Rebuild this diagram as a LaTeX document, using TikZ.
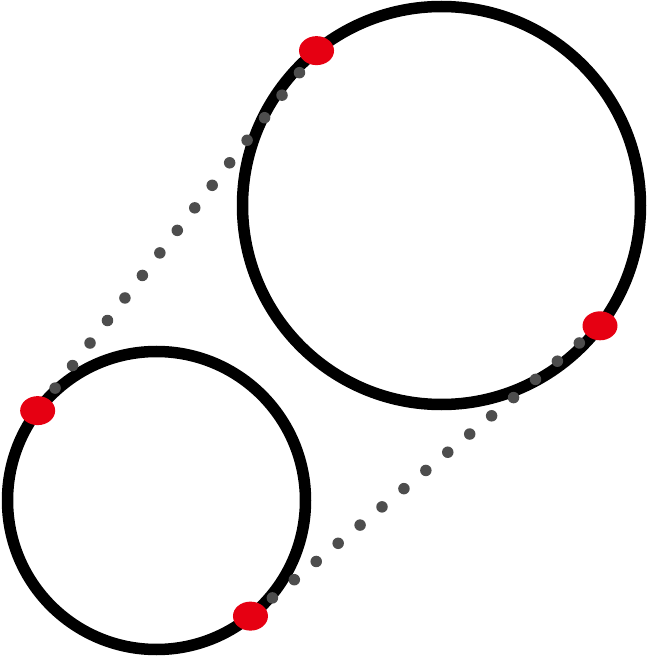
\documentclass[tikz,border=0pt]{standalone}
\usepackage{xcolor}
\usetikzlibrary{shapes.geometric}
\definecolor{pinred}{RGB}{230,0,18}
\definecolor{dotgray}{RGB}{77,77,77}
\tikzset{
  ring/.style={line width=0.23cm, black},
  pin/.style={ellipse, fill=pinred, minimum width=0.7cm, minimum height=0.58cm, inner sep=0pt},
  tangent/.style={dotgray, line width=0.23cm, line cap=round, dash pattern=on 0pt off 0.57cm}
}

\begin{document}
\begin{tikzpicture}
    \useasboundingbox (0,0) rectangle (12.98,13.12);

    \coordinate (big) at (8.83,9.01);
    \coordinate (small) at (3.13,3.11);
    \draw[ring] (big) circle (3.98);
    \draw[ring] (small) circle (2.98);

    % touching points
    \coordinate (bigtop) at ([shift={(128.9:3.98)}]big);
    \coordinate (bigright) at ([shift={(-37.2:3.98)}]big);
    \coordinate (smallleft) at ([shift={(142.9:2.98)}]small);
    \coordinate (smallbottom) at ([shift={(-50.9:2.98)}]small);

    \draw[tangent] (smallleft) -- (bigtop);
    \draw[tangent] (smallbottom) -- (bigright);

    \node[pin] (p1) at (bigtop) {};
    \node[pin] (p2) at (bigright) {};
    \node[pin] (p3) at (smallleft) {};
    \node[pin] (p4) at (smallbottom) {};
\end{tikzpicture}
\end{document}
